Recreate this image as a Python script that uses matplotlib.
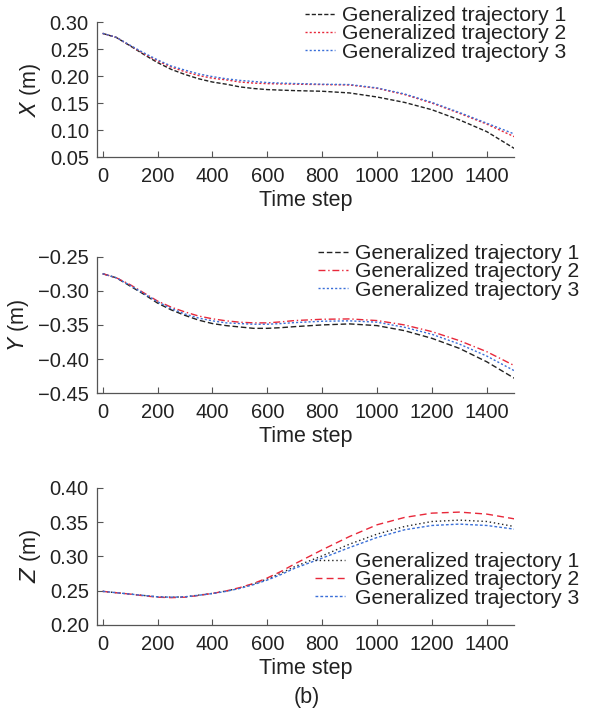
import numpy as np
import matplotlib
matplotlib.use('Agg')
import matplotlib.pyplot as plt

plt.rcParams['font.family'] = ['Liberation Sans', 'DejaVu Sans']

# values
steps = [0, 50, 100, 150, 200, 250, 300, 350, 400, 450, 500, 550, 600, 650, 700,
         800, 900, 1000, 1100, 1200, 1300, 1400, 1500]

x_traj1 = [0.279, 0.2714, 0.256, 0.240, 0.225, 0.2124, 0.203, 0.195, 0.189, 0.185, 0.180, 0.177, 0.175, 0.174, 0.1731,
           0.1719, 0.1688, 0.1613, 0.1513, 0.1377, 0.119, 0.0972, 0.0662]
x_traj2 = [0.279, 0.2714, 0.2565, 0.2415, 0.228, 0.2166, 0.208, 0.201, 0.196, 0.193, 0.189, 0.187, 0.186, 0.1855, 0.185,
           0.1843, 0.1835, 0.1774, 0.1659, 0.150, 0.1312, 0.1111, 0.0879]
x_traj3 = [0.279, 0.2716, 0.257, 0.243, 0.230, 0.2186, 0.211, 0.204, 0.199, 0.195, 0.192, 0.190, 0.188, 0.187, 0.1862,
           0.1849, 0.1843, 0.1781, 0.167, 0.1513, 0.1327, 0.1128, 0.0929]

y_traj1 = [-0.275, -0.281, -0.293, -0.305, -0.318, -0.328, -0.336, -0.343, -0.348, -0.351, -0.353, -0.355, -0.355, -0.354, -0.3525,
           -0.350, -0.3485, -0.351, -0.3584, -0.3696, -0.3843, -0.404, -0.428]
y_traj2 = [-0.275, -0.281, -0.291, -0.303, -0.315, -0.324, -0.331, -0.337, -0.341, -0.344, -0.346, -0.347, -0.347, -0.3455, -0.3436,
           -0.3417, -0.3412, -0.3436, -0.350, -0.3598, -0.373, -0.3892, -0.4095]
y_traj3 = [-0.275, -0.281, -0.292, -0.304, -0.316, -0.326, -0.334, -0.340, -0.344, -0.347, -0.348, -0.349, -0.349, -0.348, -0.3466,
           -0.3446, -0.344, -0.346, -0.3534, -0.3637, -0.378, -0.3956, -0.417]

z_traj1 = [0.249, 0.247, 0.245, 0.243, 0.241, 0.2405, 0.241, 0.2435, 0.246, 0.2495, 0.254, 0.2598, 0.267, 0.2755, 0.285,
           0.3007, 0.3178, 0.3324, 0.3435, 0.3508, 0.3528, 0.3508, 0.3435]
z_traj2 = [0.249, 0.247, 0.245, 0.2425, 0.2405, 0.2398, 0.2405, 0.243, 0.246, 0.2495, 0.2545, 0.2605, 0.2685, 0.278, 0.289,
           0.3095, 0.329, 0.346, 0.3567, 0.363, 0.3645, 0.3616, 0.3547]
z_traj3 = [0.249, 0.247, 0.245, 0.243, 0.241, 0.2405, 0.241, 0.2433, 0.2458, 0.249, 0.2533, 0.2588, 0.2655, 0.2735, 0.2827,
           0.2974, 0.3129, 0.3275, 0.3387, 0.345, 0.347, 0.345, 0.3397]

labels = ['Generalized trajectory 1', 'Generalized trajectory 2', 'Generalized trajectory 3']
colors = ['#222222', '#e8283a', '#3a6fd8']
x_ticks = [0, 200, 400, 600, 800, 1000, 1200, 1400]

# name, series, ylim, yticks, linestyles, axes rect, legend (left px, top px, textpad)
panels = [
    ('X', [x_traj1, x_traj2, x_traj3], (0.05, 0.30), [0.05, 0.10, 0.15, 0.20, 0.25, 0.30],
     [(0, (3, 1.5)), (0, (1.5, 1.5)), (0, (1.5, 1.5))], [0.165, 0.779, 0.708, 0.190], (305, 6, 0.37)),
    ('Y', [y_traj1, y_traj2, y_traj3], (-0.45, -0.25), [-0.45, -0.40, -0.35, -0.30, -0.25],
     [(0, (4, 2)), (0, (5, 2, 1, 2)), (0, (1.5, 1.5))], [0.165, 0.447, 0.708, 0.192], (318, 244, 0.37)),
    ('Z', [z_traj1, z_traj2, z_traj3], (0.20, 0.40), [0.20, 0.25, 0.30, 0.35, 0.40],
     [(0, (1, 2)), (0, (5, 3)), (0, (2, 1.5))], [0.165, 0.121, 0.708, 0.193], (315, 552, 0.5)),
]

W, H = 589, 711
fig = plt.figure(figsize=(W / 100, H / 100), dpi=100)
txt = '#222222'

for name, series, ylim, yticks, styles, rect, (lx, ly, tpad) in panels:
    ax = fig.add_axes(rect)
    for s, c, ls, lab in zip(series, colors, styles, labels):
        ax.plot(steps, s, color=c, linestyle=ls, linewidth=1.0, label=lab)
    ax.set_xlim(-20, 1500)
    ax.set_ylim(*ylim)
    ax.set_xticks(x_ticks)
    ax.set_yticks(yticks)
    ax.set_yticklabels([('%.2f' % v).replace('-', '\u2212') for v in yticks])
    for sp in ['top', 'right']:
        ax.spines[sp].set_visible(False)
    for sp in ['left', 'bottom']:
        ax.spines[sp].set_color('#555555')
        ax.spines[sp].set_linewidth(0.9)
    ax.tick_params(direction='in', length=4, width=0.8, color='#555555',
                   labelsize=14.5, labelcolor=txt, pad=6)
    ax.tick_params(axis='x', pad=7)
    ax.set_xlabel('Time step', fontsize=15.5, color=txt, labelpad=3)
    ax.set_ylabel('$\\mathit{%s}$ (m)' % name, fontsize=15.5, color=txt, labelpad=5)
    leg = ax.legend(loc='upper left', bbox_to_anchor=(lx / W, 1 - ly / H),
                    bbox_transform=fig.transFigure, frameon=False,
                    fontsize=15.2, handlelength=1.4, handletextpad=tpad,
                    labelspacing=-0.03, borderpad=0, borderaxespad=0)
    for t in leg.get_texts():
        t.set_color(txt)

fig.text(307 / W, 1 - 697 / H, '(b)', ha='center', va='center', fontsize=15.5, color=txt)

fig.savefig('out.png', dpi=100)
